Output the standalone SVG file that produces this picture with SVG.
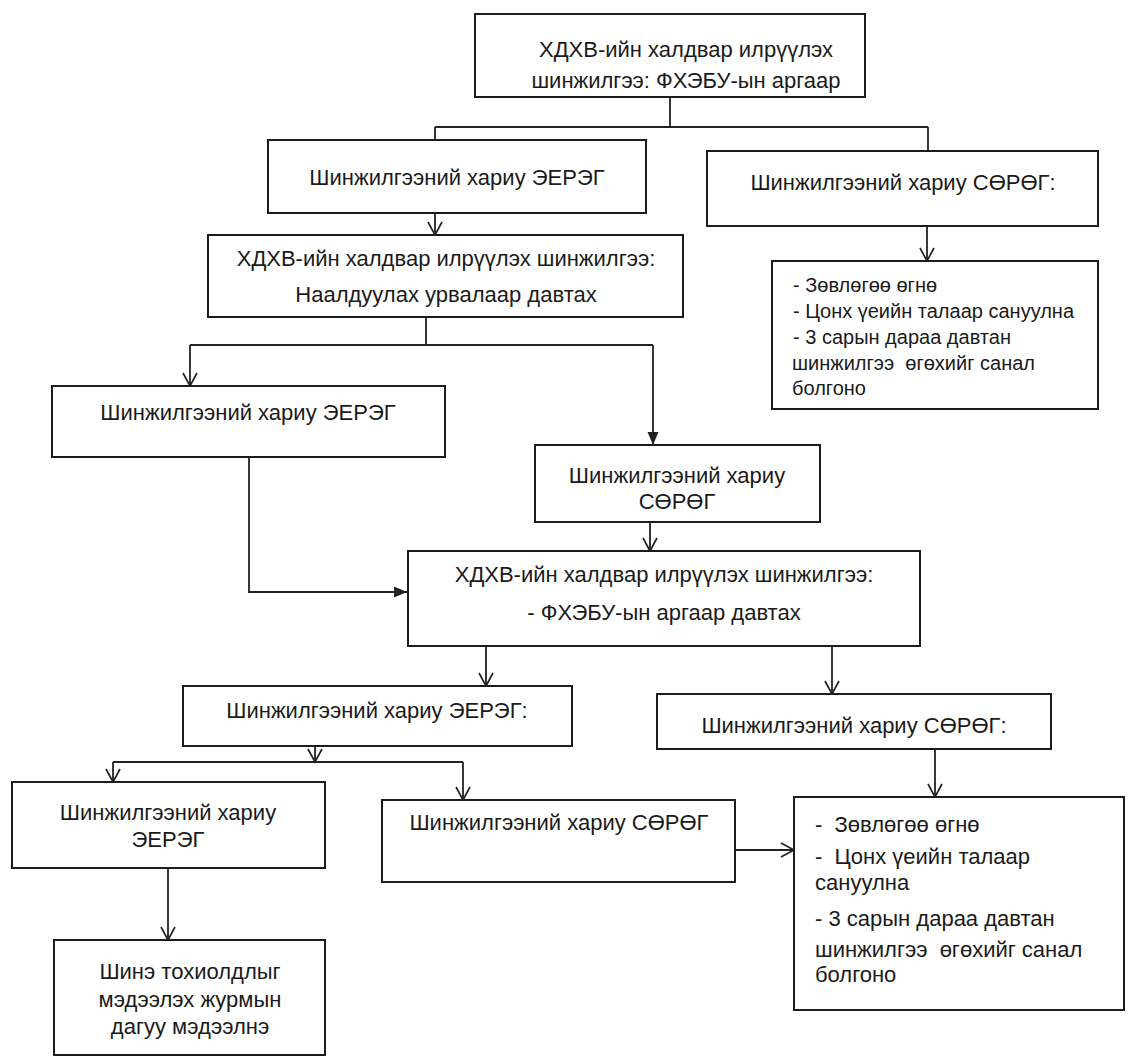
<svg xmlns="http://www.w3.org/2000/svg" width="1134" height="1063" viewBox="0 0 1134 1063">
  <style>
    .box { fill: #ffffff; stroke: #1c1c1c; stroke-width: 2; }
    .c { fill: none; stroke: #222222; stroke-width: 1.8; }
    .t { font-family: "Liberation Sans", Arial, "DejaVu Sans", sans-serif; font-size: 22px; fill: #1a1a1a; text-anchor: middle; }
    .l { font-family: "Liberation Sans", Arial, "DejaVu Sans", sans-serif; font-size: 22px; fill: #1a1a1a; white-space: pre; }
    .s { font-family: "Liberation Sans", Arial, "DejaVu Sans", sans-serif; font-size: 20px; fill: #1a1a1a; white-space: pre; }
  </style>
  <defs>
    <marker id="open" markerUnits="userSpaceOnUse" markerWidth="16" markerHeight="16" refX="14" refY="8" orient="auto">
      <path d="M1,1 L14,8 L1,15" fill="none" stroke="#222222" stroke-width="1.7"/>
    </marker>
    <marker id="solid" markerUnits="userSpaceOnUse" markerWidth="14" markerHeight="12" refX="13" refY="6" orient="auto">
      <path d="M0,0.5 L13,6 L0,11.5 Z" fill="#222222"/>
    </marker>
  </defs>

  <rect width="1134" height="1063" fill="#ffffff"/>

  <!-- connectors -->
  <g id="connectors">
    <path class="c" d="M670,97 V127 M435,127 H928 M435,127 V140 M928,127 V151"/>
    <path class="c" d="M435,213 V235" marker-end="url(#open)"/>
    <path class="c" d="M927,226 V261" marker-end="url(#open)"/>
    <path class="c" d="M426,317 V345 M190,345 H653"/>
    <path class="c" d="M190,345 V386" marker-end="url(#open)"/>
    <path class="c" d="M653,345 V445" marker-end="url(#solid)"/>
    <path class="c" d="M249,457 V592 H407" marker-end="url(#solid)"/>
    <path class="c" d="M650,522 V551" marker-end="url(#open)"/>
    <path class="c" d="M486,646 V686" marker-end="url(#open)"/>
    <path class="c" d="M832,646 V694" marker-end="url(#open)"/>
    <path class="c" d="M315,746 V762" marker-end="url(#open)"/>
    <path class="c" d="M113,762 H463"/>
    <path class="c" d="M113,762 V782" marker-end="url(#open)"/>
    <path class="c" d="M463,762 V800" marker-end="url(#open)"/>
    <path class="c" d="M935,749 V797" marker-end="url(#open)"/>
    <path class="c" d="M735,850 H794" marker-end="url(#open)"/>
    <path class="c" d="M168,868 V940" marker-end="url(#open)"/>
  </g>

  <!-- nodes -->
  <g id="n1">
    <rect class="box" x="475" y="14" width="390" height="83"/>
    <text class="t" x="686" y="57">ХДХВ-ийн халдвар илрүүлэх</text>
    <text class="t" x="686" y="88">шинжилгээ: ФХЭБУ-ын аргаар</text>
  </g>
  <g id="n2">
    <rect class="box" x="268" y="140" width="378" height="73"/>
    <text class="t" x="457" y="185">Шинжилгээний хариу ЭЕРЭГ</text>
  </g>
  <g id="n3">
    <rect class="box" x="707" y="151" width="391" height="75"/>
    <text class="t" x="903" y="190">Шинжилгээний хариу СӨРӨГ:</text>
  </g>
  <g id="n4">
    <rect class="box" x="772" y="261" width="326" height="148"/>
    <text class="s" x="793" y="292">- Зөвлөгөө өгнө</text>
    <text class="s" x="793" y="318">- Цонх үеийн талаар сануулна</text>
    <text class="s" x="793" y="344">- 3 сарын дараа давтан</text>
    <text class="s" x="792" y="370">шинжилгээ  өгөхийг санал</text>
    <text class="s" x="792" y="395">болгоно</text>
  </g>
  <g id="n5">
    <rect class="box" x="208" y="235" width="475" height="82"/>
    <text class="t" x="446" y="266">ХДХВ-ийн халдвар илрүүлэх шинжилгээ:</text>
    <text class="t" x="446" y="302">Наалдуулах урвалаар давтах</text>
  </g>
  <g id="n6">
    <rect class="box" x="52" y="386" width="393" height="71"/>
    <text class="t" x="248" y="420">Шинжилгээний хариу ЭЕРЭГ</text>
  </g>
  <g id="n7">
    <rect class="box" x="535" y="445" width="285" height="77"/>
    <text class="t" x="677" y="483">Шинжилгээний хариу</text>
    <text class="t" x="677" y="509">СӨРӨГ</text>
  </g>
  <g id="n8">
    <rect class="box" x="408" y="551" width="512" height="95"/>
    <text class="t" x="664" y="582">ХДХВ-ийн халдвар илрүүлэх шинжилгээ:</text>
    <text class="t" x="664" y="620">- ФХЭБУ-ын аргаар давтах</text>
  </g>
  <g id="n9">
    <rect class="box" x="183" y="686" width="389" height="60"/>
    <text class="t" x="377" y="718">Шинжилгээний хариу ЭЕРЭГ:</text>
  </g>
  <g id="n10">
    <rect class="box" x="657" y="694" width="394" height="55"/>
    <text class="t" x="854" y="733">Шинжилгээний хариу СӨРӨГ:</text>
  </g>
  <g id="n11">
    <rect class="box" x="794" y="797" width="330" height="213"/>
    <text class="l" x="815" y="832">-  Зөвлөгөө өгнө</text>
    <text class="l" x="815" y="864">-  Цонх үеийн талаар</text>
    <text class="l" x="815" y="890">сануулна</text>
    <text class="l" x="815" y="926">- 3 сарын дараа давтан</text>
    <text class="l" x="815" y="957">шинжилгээ  өгөхийг санал</text>
    <text class="l" x="815" y="982">болгоно</text>
  </g>
  <g id="n12">
    <rect class="box" x="12" y="782" width="313" height="86"/>
    <text class="t" x="168" y="820">Шинжилгээний хариу</text>
    <text class="t" x="168" y="847">ЭЕРЭГ</text>
  </g>
  <g id="n13">
    <rect class="box" x="382" y="800" width="353" height="82"/>
    <text class="t" x="559" y="830">Шинжилгээний хариу СӨРӨГ</text>
  </g>
  <g id="n14">
    <rect class="box" x="54" y="940" width="271" height="115"/>
    <text class="t" x="190" y="979">Шинэ тохиолдлыг</text>
    <text class="t" x="190" y="1007">мэдээлэх журмын</text>
    <text class="t" x="190" y="1034">дагуу мэдээлнэ</text>
  </g>
</svg>
